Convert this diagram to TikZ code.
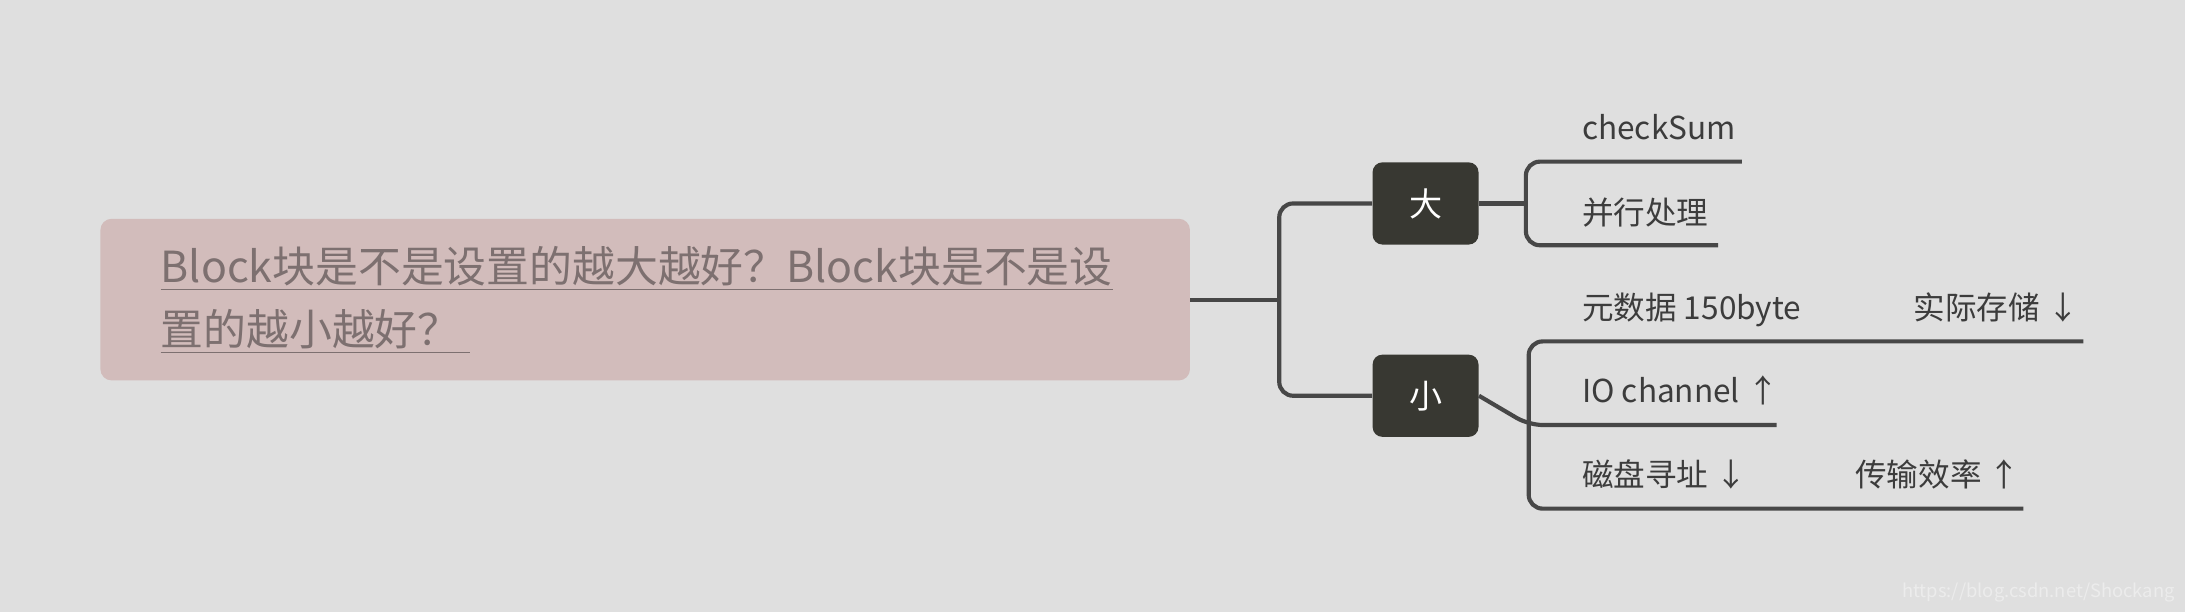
\documentclass[tikz,border=0pt]{standalone}
\usepackage{fontspec}
\setmainfont{Noto Sans CJK SC}
\usetikzlibrary{positioning}
\definecolor{bgc}{HTML}{DFDFDF}
\definecolor{rootc}{HTML}{D2BCBB}
\definecolor{titlec}{HTML}{7D7070}
\definecolor{boxc}{HTML}{383832}
\definecolor{linec}{HTML}{474747}
\definecolor{leafc}{HTML}{3C3C3C}
\begin{document}
\begin{tikzpicture}[x=0.02cm,y=-0.02cm]
 \tikzstyle{rootbox} = [fill=rootc,rounded corners=0.16cm,minimum width=15.64cm,minimum height=2.32cm,inner sep=0]
 \tikzstyle{title} = [text=titlec,font=\fontsize{17.5}{26}\selectfont,anchor=base west,inner sep=0]
 \tikzstyle{sizebox} = [fill=boxc,text=white,rounded corners=0.14cm,minimum width=1.52cm,minimum height=1.18cm,font=\fontsize{13.5}{16}\selectfont]
 \tikzstyle{leaf} = [text=leafc,font=\fontsize{12.9}{16}\selectfont,anchor=base west,inner sep=0]
 \tikzstyle{conn} = [draw=linec,line width=1.7pt,rounded corners=0.2cm]

 \fill[bgc] (0,0) rectangle (1568,439);
 \useasboundingbox (0,0) rectangle (1568,439);

% Root
 \node[rootbox] (root) at (463,215) {};
 \node[title] (t1) at (115,203) {\underline{Block块是不是设置的越大越好？Block块是不是设}};
 \node[title] (t2) at (115,248) {\underline{置的越小越好？\ }};

% Size boxes
 \node[sizebox] (big) at (1023,146) {大};
 \node[sizebox] (small) at (1023,284) {小};
 \coordinate (j0) at (918,215);
 \draw[conn] (big.west) -| (j0) |- (small.west);
 \draw[conn] (root.east) -- (j0);

% Leaves of big
 \node[leaf] (cs) at (1135,100) {checkSum};
 \node[leaf] (par) at (1135,161) {并行处理};
 \coordinate (j1) at (1095,146);
 \coordinate (cse) at (1250,116);
 \coordinate (pare) at (1233,176);
 \draw[conn] (cse) -| (j1) |- (pare);
 \draw[conn] (big.east) -- (j1);

% Leaves of small
 \node[leaf] (meta) at (1135,229) {元数据 150byte};
 \node[leaf] (store) at (1373,229) {实际存储 ↓};
 \node[leaf] (io) at (1135,289) {IO channel ↑};
 \node[leaf] (seek) at (1135,349) {磁盘寻址 ↓};
 \node[leaf] (rate) at (1331,349) {传输效率 ↑};
 \coordinate (j2) at (1097,305);
 \coordinate (metae) at (1495,245);
 \coordinate (ioe) at (1275,305);
 \coordinate (seeke) at (1452,365);
 \draw[conn] (metae) -| (j2) |- (seeke);
 \draw[conn] (small.east) -- (j2) -- (ioe);

 \node[text=white!85!gray,font=\fontsize{7.5}{9}\selectfont,anchor=base east,inner sep=0] (wm) at (1561,429) {https://blog.csdn.net/Shockang};
\end{tikzpicture}
\end{document}
